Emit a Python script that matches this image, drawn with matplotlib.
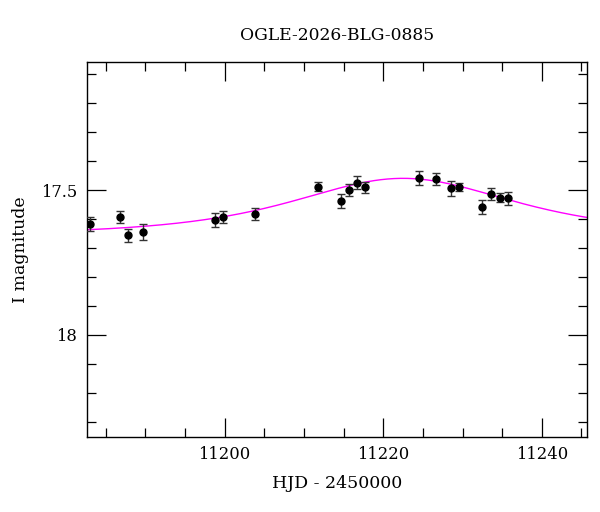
import numpy as np
import matplotlib
matplotlib.use("Agg")
import matplotlib.pyplot as plt
from matplotlib.ticker import MultipleLocator

# photometry
hjd = [11183.0, 11186.76, 11187.85, 11189.70, 11198.74, 11199.79, 11203.79,
       11211.77, 11214.63, 11215.72, 11216.73, 11217.74, 11224.55, 11226.65,
       11228.50, 11229.59, 11232.45, 11233.59, 11234.68, 11235.77]
mag = [17.617, 17.593, 17.656, 17.645, 17.603, 17.593, 17.583,
       17.489, 17.537, 17.500, 17.475, 17.491, 17.458, 17.462,
       17.494, 17.490, 17.559, 17.515, 17.526, 17.529]
mag_err = [0.024, 0.022, 0.023, 0.029, 0.025, 0.022, 0.021,
           0.016, 0.024, 0.021, 0.022, 0.020, 0.023, 0.022,
           0.026, 0.015, 0.025, 0.021, 0.017, 0.021]

# point-lens model parameters
t0 = 11222.5
tE = 14.6
u0 = 1.28
I0 = 17.655
fs = 1.0

title = "OGLE-2026-BLG-0885"


def paczynski(t):
    u = np.sqrt(u0**2 + ((t - t0) / tE)**2)
    A = (u**2 + 2) / (u * np.sqrt(u**2 + 4))
    return I0 - 2.5 * np.log10(fs * A + (1 - fs))


plt.rcParams['font.family'] = ['DejaVu Serif']

fig = plt.figure(figsize=(6, 5.12), dpi=100)
ax = fig.add_axes([0.145, 0.147, 0.833, 0.731])

tt = np.linspace(11182.64, 11245.67, 600)
ax.plot(tt, paczynski(tt), color='#ff00ff', lw=1.0, zorder=2)
ax.errorbar(hjd, mag, yerr=mag_err, fmt='o', color='black', ms=5,
            elinewidth=1.0, ecolor='#333333', capsize=3, capthick=1.0, zorder=3)

ax.set_xlim(11182.64, 11245.67)
ax.set_ylim(18.351, 17.06)

ax.xaxis.set_major_locator(MultipleLocator(20))
ax.xaxis.set_minor_locator(MultipleLocator(5))
ax.yaxis.set_major_locator(MultipleLocator(0.5))
ax.yaxis.set_minor_locator(MultipleLocator(0.1))
ax.yaxis.set_major_formatter(plt.FuncFormatter(lambda v, p: f"{v:g}"))

ax.tick_params(which='both', direction='in', top=True, right=True,
               labelsize=11.8, width=0.9, pad=7)
ax.tick_params(which='major', length=13.5)
ax.tick_params(which='minor', length=6.7)
for s in ax.spines.values():
    s.set_linewidth(1.0)

ax.set_xlabel("HJD - 2450000", fontsize=12.5, labelpad=8)
ax.set_ylabel("I magnitude", fontsize=12.5, labelpad=9)
fig.text(0.562, 0.93, title, ha='center', va='center', fontsize=12.3)

fig.savefig("out.png", dpi=100)
